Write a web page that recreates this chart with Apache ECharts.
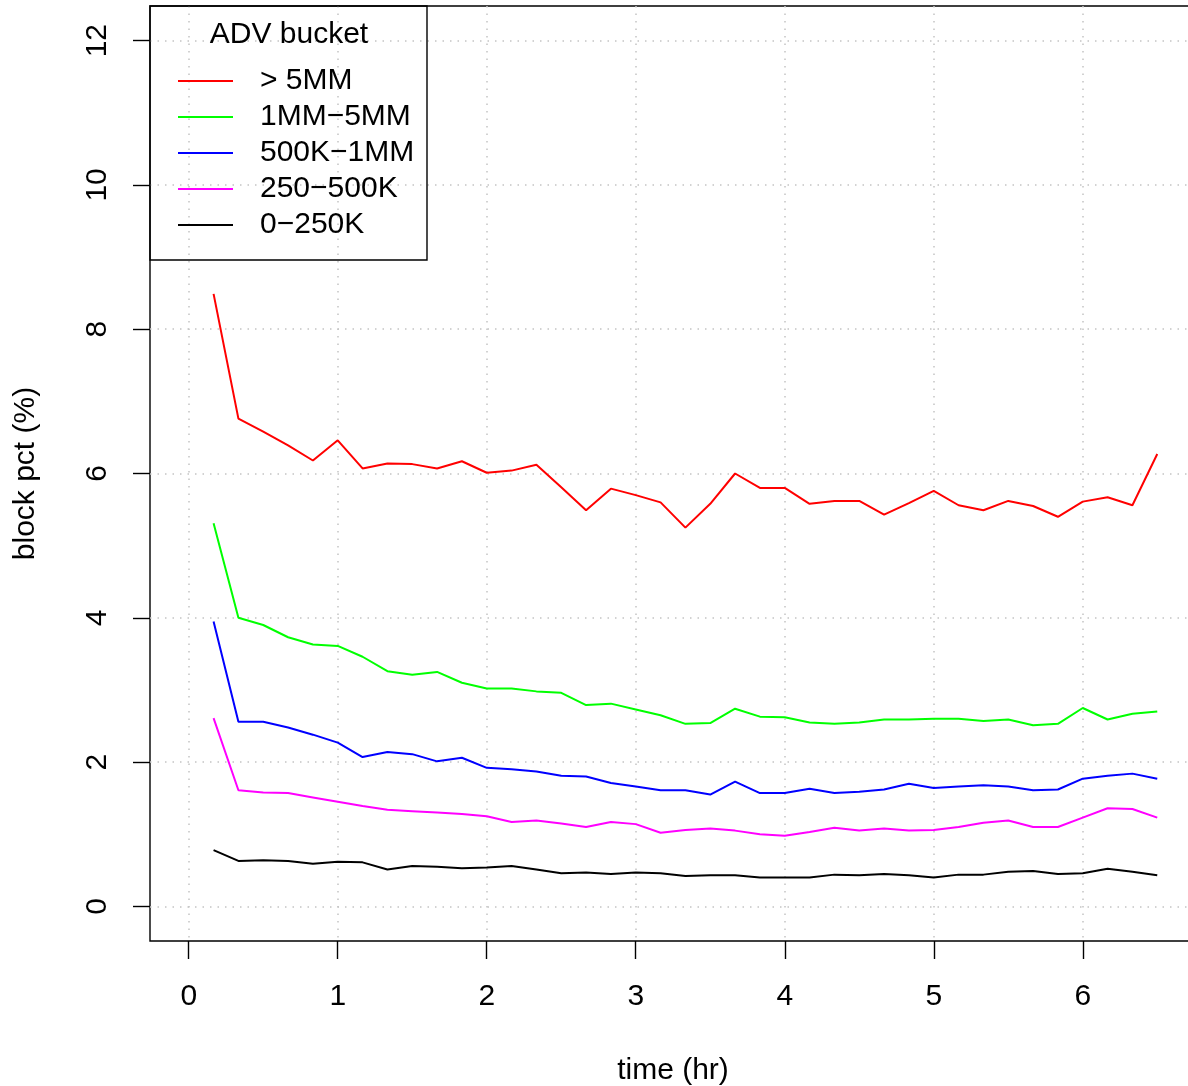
<!DOCTYPE html>
<html>
<head>
<meta charset="utf-8">
<script src="https://cdn.jsdelivr.net/npm/echarts@6/dist/echarts.min.js"></script>
<style>
html,body{margin:0;padding:0;background:#fff;}
#chart{width:1188px;height:1086px;}
</style>
</head>
<body>
<div id="chart"></div>
<script>
// time of day in minutes since open (10-minute buckets)
const minutes = [10,20,30,40,50,60,70,80,90,100,110,120,130,140,150,160,170,180,190,200,
  210,220,230,240,250,260,270,280,290,300,310,320,330,340,350,360,370,380,390];
const bucketNames = ['> 5MM', '1MM\u22125MM', '500K\u22121MM', '250\u2212500K', '0\u2212250K'];
const over5MM = [8.49,6.76,6.58,6.39,6.18,6.46,6.07,6.14,6.13,6.07,6.17,6.01,6.04,6.12,5.81,5.49,5.79,5.70,5.60,5.25,
  5.58,6.00,5.80,5.80,5.58,5.62,5.62,5.43,5.59,5.76,5.56,5.49,5.62,5.55,5.40,5.61,5.67,5.56,6.27];
const mm1to5 = [5.31,4.00,3.90,3.73,3.63,3.61,3.46,3.26,3.21,3.25,3.10,3.02,3.02,2.98,2.96,2.79,2.81,2.73,2.65,2.53,
  2.54,2.74,2.63,2.62,2.55,2.53,2.55,2.59,2.59,2.60,2.60,2.57,2.59,2.51,2.53,2.75,2.59,2.67,2.70];
const k500to1mm = [3.95,2.56,2.56,2.48,2.38,2.27,2.07,2.14,2.11,2.01,2.06,1.92,1.90,1.87,1.81,1.80,1.71,1.66,1.61,1.61,
  1.55,1.73,1.57,1.57,1.63,1.57,1.59,1.62,1.70,1.64,1.66,1.68,1.66,1.61,1.62,1.77,1.81,1.84,1.77];
const k250to500 = [2.61,1.61,1.58,1.57,1.51,1.45,1.39,1.34,1.32,1.30,1.28,1.25,1.17,1.19,1.15,1.10,1.17,1.14,1.02,1.06,
  1.08,1.05,1.00,0.98,1.03,1.09,1.05,1.08,1.05,1.06,1.10,1.16,1.19,1.10,1.10,1.23,1.36,1.35,1.23];
const k0to250 = [0.78,0.63,0.64,0.63,0.59,0.62,0.61,0.51,0.56,0.55,0.53,0.54,0.56,0.51,0.46,0.47,0.45,0.47,0.46,0.42,
  0.43,0.43,0.40,0.40,0.40,0.44,0.43,0.45,0.43,0.40,0.44,0.44,0.48,0.49,0.45,0.46,0.52,0.48,0.43];
const xTicks = [0,1,2,3,4,5,6];
const yTicks = [0,2,4,6,8,10,12];
const legendTitle = 'ADV bucket';

const colors = ['#ff0000','#00ff00','#0000ff','#ff00ff','#000000'];
const seriesValues = [over5MM, mm1to5, k500to1mm, k250to500, k0to250];
const FONT = '"Liberation Sans", Arial, Helvetica, sans-serif';

const chart = echarts.init(document.getElementById('chart'), null, {renderer:'canvas'});
const series = seriesValues.map((vals, i) => ({
  name: bucketNames[i],
  type: 'line',
  data: vals.map((v, j) => [minutes[j] / 60, v]),
  symbol: 'none',
  lineStyle: {color: colors[i], width: 2},
  itemStyle: {color: colors[i]},
  emphasis: {disabled: true},
  animation: false,
  z: 10 - i
}));

chart.setOption({
  backgroundColor: '#fff',
  animation: false,
  grid: {left: 150, top: 6, width: 1046, height: 935, show: true, borderColor: '#000', borderWidth: 1.4,
    containLabel: false, outerBoundsMode: 'none'},
  xAxis: {
    type: 'value', min: -0.26, max: 6.76,
    name: 'time (hr)', nameLocation: 'middle', nameGap: 115,
    nameTextStyle: {fontFamily: FONT, fontSize: 30, color: '#000'},
    axisLine: {show: false, onZero: false},
    axisTick: {show: true, length: 18, customValues: xTicks, lineStyle: {color: '#000', width: 1.4}},
    axisLabel: {show: true, customValues: xTicks, margin: 41, fontFamily: FONT, fontSize: 30, color: '#000'},
    splitLine: {show: true, lineStyle: {color: '#c4c4c4', width: 1.5, type: [1.5, 6]}}
  },
  yAxis: {
    type: 'value', min: -0.48, max: 12.48,
    name: 'block pct (%)', nameLocation: 'middle', nameGap: 109, nameRotate: 90,
    nameTextStyle: {fontFamily: FONT, fontSize: 30, color: '#000'},
    axisLine: {show: false, onZero: false},
    axisTick: {show: true, length: 17, customValues: yTicks, lineStyle: {color: '#000', width: 1.4}},
    axisLabel: {show: true, customValues: yTicks, rotate: 90, margin: 37, align: 'center', verticalAlign: 'bottom',
      fontFamily: FONT, fontSize: 30, color: '#000'},
    splitLine: {show: true, lineStyle: {color: '#c4c4c4', width: 1.5, type: [1.5, 6]}}
  },
  legend: {
    orient: 'vertical', left: 178, top: 66, padding: 0, itemGap: 6,
    icon: 'rect', itemWidth: 55, itemHeight: 2,
    selectedMode: false,
    textStyle: {fontFamily: FONT, fontSize: 30, color: '#000', lineHeight: 30, padding: [0,0,0,22]},
    data: bucketNames
  },
  graphic: [
    {type: 'rect', shape: {x: 150, y: 6, width: 277, height: 254}, style: {fill: 'none', stroke: '#000', lineWidth: 1.4}, z: 100},
    {type: 'text', x: 289, y: 35, style: {text: legendTitle, fontFamily: FONT, fontSize: 30, fill: '#000', textAlign: 'center', textVerticalAlign: 'middle'}, z: 100}
  ],
  series: series
});
</script>
</body>
</html>
